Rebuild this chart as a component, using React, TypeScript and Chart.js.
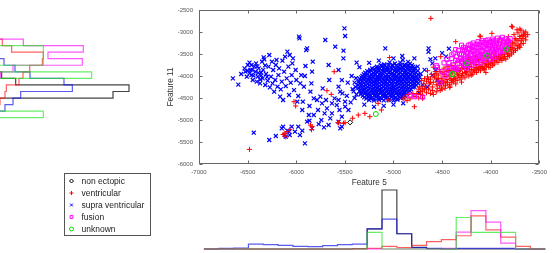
import React, { useEffect, useRef } from "react";
import { Chart, registerables } from "chart.js";
import { drawPoint } from "chart.js/helpers";

Chart.register(...registerables);

type Pt = [number, number];

const FONT = "'Liberation Sans', Arial, Helvetica, sans-serif";

// ---- classes ----
const classNames = ["non ectopic", "ventricular", "supra ventricular", "fusion", "unknown"];
const markerColors = ["#000000", "#ff0000", "#0000ff", "#ff00ff", "#00dd00"];
const lineColors = [
  "rgba(20,20,20,0.8)",
  "rgba(255,30,30,0.7)",
  "rgba(20,20,230,0.7)",
  "rgba(255,0,255,0.65)",
  "rgba(40,230,40,0.7)",
];
const markerStyles = ["rectRot", "cross", "crossRot", "rect", "circle"];
const markerRadius = [2.6, 2.6, 2.8, 2.9, 2.5];
const markerWidth = [1, 1, 1.2, 1, 1];

// ---- axis ticks ----
const feature5Ticks = [-7000, -6500, -6000, -5500, -5000, -4500, -4000, -3500];
const feature11Ticks = [-6000, -5500, -5000, -4500, -4000, -3500, -3000, -2500];

// ---- scatter: Feature 5 (x) vs Feature 11 (y) ----
const nonEctopic: Pt[] = [
  [-5446, -5054], [-4040, -3520], [-3835, -3395], [-5100, -4200], [-5000, -4300],
  [-5200, -4100], [-4950, -4150], [-5050, -4050], [-5150, -4350],
];

const ventricular: Pt[] = [
  // right band
  [-4880, -4480], [-4850, -4420], [-4830, -4520], [-4790, -4460], [-4760, -4400], [-4740, -4500],
  [-4720, -4350], [-4700, -4440], [-4730, -4250], [-4690, -4180], [-4680, -4300], [-4710, -4100],
  [-4670, -4230], [-4660, -4120], [-4650, -4020], [-4640, -4300], [-4630, -4180], [-4620, -4070],
  [-4610, -3960], [-4600, -4250], [-4590, -4140], [-4580, -4030], [-4570, -3900], [-4560, -4200],
  [-4550, -4090], [-4540, -3980], [-4530, -3850], [-4520, -4160], [-4510, -4050], [-4500, -3930],
  [-4490, -4120], [-4480, -3820], [-4470, -4010], [-4460, -3900], [-4450, -4080], [-4440, -3790],
  [-4650, -3880], [-4590, -3800],
  [-4430, -3980], [-4420, -3870], [-4410, -4060], [-4400, -3760], [-4390, -3930], [-4380, -3830],
  [-4370, -4020], [-4360, -3700], [-4350, -3900], [-4340, -3800], [-4330, -3980], [-4320, -3670],
  [-4310, -3860], [-4300, -3760], [-4290, -3940], [-4280, -3650], [-4270, -3830], [-4260, -3730],
  [-4250, -3900], [-4240, -3800], [-4230, -3620], [-4220, -3860], [-4210, -3700],
  [-4195, -3800], [-4185, -3650], [-4175, -3870], [-4160, -3560], [-4150, -3740], [-4140, -3830],
  [-4125, -3620], [-4110, -3780], [-4100, -3500], [-4090, -3700], [-4075, -3830], [-4060, -3590],
  [-4050, -3750], [-4035, -3660], [-4020, -3800], [-4010, -3520], [-4000, -3710], [-3990, -3600],
  [-3980, -3760], [-3975, -3480],
  [-3960, -3640], [-3950, -3450], [-3940, -3560], [-3925, -3380], [-3910, -3600], [-3900, -3300],
  [-3890, -3500], [-3875, -3420], [-3860, -3560], [-3850, -3250], [-3840, -3380], [-3825, -3480],
  [-3810, -3200], [-3800, -3320], [-3790, -3430], [-3775, -3250], [-3760, -3380], [-3750, -3150],
  [-3740, -3300],
  [-3720, -3200], [-3700, -3100], [-3690, -3270], [-3670, -3150], [-3650, -3050], [-3640, -3110],
  [-3720, -3020], [-3760, -3060], [-3730, -2950], [-3785, -2870], [-3700, -3350],
  // lower edge of the band
  [-4545, -4280], [-4525, -4210], [-4505, -4250], [-4485, -4180], [-4465, -4220], [-4445, -4140],
  [-4425, -4190], [-4405, -4100], [-4385, -4130], [-4365, -4060], [-4345, -4100], [-4325, -4030],
  [-4305, -4070], [-4285, -4000], [-4265, -4040], [-4245, -3960], [-4225, -4000], [-4205, -3930],
  [-4185, -3960], [-4165, -3890], [-4145, -3920], [-4125, -3850], [-4105, -3880], [-4085, -3810],
  [-4065, -3850], [-4045, -3780], [-4025, -3740], [-4005, -3800], [-3985, -3700], [-3965, -3730],
  [-3945, -3660], [-3925, -3690], [-3905, -3620], [-3885, -3650], [-3865, -3600], [-3845, -3620],
  [-3825, -3560], [-3805, -3540], [-3785, -3500], [-3765, -3460], [-3745, -3420], [-3725, -3380],
  [-3705, -3320], [-3685, -3200], [-3665, -3260],
  [-3780, -3350], [-3760, -3250], [-3740, -3180], [-3720, -3300], [-3700, -3150], [-3680, -3080],
  [-3660, -3000], [-3690, -2960], [-3640, -3180], [-3620, -3060], [-3800, -3230], [-3820, -3300],
  [-4600, -4330], [-4620, -4400], [-4660, -4380], [-4700, -4340], [-4740, -4300], [-4520, -4330],
  [-4470, -4280], [-4420, -4260], [-4360, -4180], [-4300, -4140],
  // band interior
  [-4580, -4000], [-4560, -3950], [-4540, -4060], [-4520, -3900], [-4500, -4100], [-4480, -3960],
  [-4460, -4150], [-4440, -3870], [-4420, -4000], [-4400, -3900], [-4380, -4080], [-4360, -3850],
  [-4340, -3960], [-4320, -3880], [-4300, -3990], [-4280, -3800], [-4260, -3920], [-4240, -3720],
  [-4220, -3780], [-4200, -3850], [-4180, -3700], [-4160, -3810], [-4140, -3650], [-4120, -3740],
  [-4100, -3800], [-4080, -3640], [-4060, -3720], [-4040, -3600], [-4020, -3680], [-4000, -3560],
  [-3980, -3640], [-3960, -3560], [-3940, -3620], [-3920, -3540], [-3900, -3580], [-3880, -3480],
  [-3860, -3520], [-3840, -3440], [-3820, -3500], [-3800, -3400], [-4620, -4150], [-4640, -4080],
  [-4680, -4060], [-4700, -4280], [-4720, -4420], [-4800, -4400], [-4860, -4560], [-4900, -4520],
  // scattered
  [-4616, -2690], [-4360, -3220], [-4107, -3107], [-3988, -3031], [-3904, -3144], [-3819, -3106],
  [-4514, -3561], [-4785, -4698], [-4700, -4508], [-5056, -4546], [-5158, -4622], [-5124, -4773],
  [-5243, -4925], [-5294, -4849], [-5362, -4887], [-5420, -4960], [-5514, -5076], [-5565, -5061],
  [-4768, -4470], [-4590, -4420], [-4500, -4300], [-4400, -4150], [-4200, -3980], [-4050, -3920],
  [-5040, -3580], [-4560, -4360], [-4420, -4230], [-4111, -3091], [-3775, -2886], [-3663, -3068],
  [-3640, -3000], [-3700, -2930],
  // left side
  [-6481, -5667], [-5610, -3902], [-6118, -5304], [-6108, -5380], [-6091, -5266], [-6135, -5330],
  [-6023, -4584], [-6006, -4682], [-5854, -5114], [-5837, -5150], [-5684, -4334], [-5640, -4417],
  [-5572, -5061], [-5498, -5061], [-6067, -5220], [-5843, -5220],
];

const supraVentricular: Pt[] = [
  // left cloud
  [-6651, -4054], [-6596, -4197], [-6566, -3955], [-6532, -3826], [-6522, -3902], [-6508, -4016],
  [-6498, -3750], [-6481, -3697], [-6471, -3864], [-6461, -3978], [-6447, -4091], [-6430, -3788],
  [-6420, -3902], [-6413, -3713], [-6406, -4129], [-6396, -4016], [-6386, -3826], [-6372, -4167],
  [-6362, -3925], [-6352, -3675], [-6345, -4054], [-6335, -3576], [-6328, -3622], [-6318, -4205],
  [-6311, -3955], [-6294, -4107], [-6284, -3788], [-6277, -3523], [-6271, -4258], [-6260, -4016],
  [-6250, -3675], [-6244, -4167], [-6237, -3864], [-6227, -4357], [-6216, -4091], [-6210, -3750],
  [-6203, -3637], [-6193, -4243], [-6183, -3978], [-6176, -3826], [-6166, -4470], [-6159, -4304],
  [-6149, -4129], [-6142, -3652], [-6135, -4546], [-6125, -3902], [-6115, -3561], [-6108, -4228],
  [-6098, -4054], [-6091, -3447], [-6081, -3788], [-6074, -4432], [-6067, -3523], [-6057, -4152],
  [-6047, -3978], [-6040, -3713], [-6033, -3599], [-6023, -4319], [-6006, -3864], [-5999, -4091],
  [-5989, -4584], [-5979, -4455], [-5972, -3106], [-5966, -3144], [-5959, -4167], [-5949, -3978],
  [-5938, -4773], [-5932, -4584], [-5921, -4243], [-5911, -4000], [-5905, -3773], [-5898, -3410],
  [-5888, -3372], [-5871, -4887], [-5864, -4682], [-5854, -4357], [-5844, -4167], [-5837, -3902],
  [-5830, -3675], [-5820, -4508], [-5786, -4546], [-5776, -4773], [-5752, -4470], [-5735, -4622],
  [-5728, -4281], [-5708, -4849], [-5701, -3182], [-5694, -4546], [-5684, -4735], [-5667, -3750],
  [-5660, -4091], [-5650, -4963], [-5633, -4622], [-5606, -4508], [-5599, -3334], [-5583, -4660],
  [-5565, -4243], [-5555, -4773], [-5525, -4395], [-5515, -3599], [-5504, -2917], [-5498, -4584],
  [-6480, -3940], [-6450, -3860], [-6440, -3990], [-6400, -3780], [-6390, -3930], [-6370, -4080],
  [-6340, -3860], [-6320, -3760], [-6300, -4020], [-6460, -3750], [-6500, -3880], [-6360, -3990],
  // lower left group
  [-6437, -5289], [-6277, -5455], [-6210, -5364], [-6149, -5190], [-6135, -5152], [-6118, -5342],
  [-6108, -5380], [-6091, -5243], [-6074, -5266], [-6067, -5342], [-6047, -5152], [-6013, -5266],
  [-5979, -5152], [-5962, -5342], [-5938, -5243], [-5911, -5531], [-5888, -5039], [-5864, -5016],
  [-5837, -5190], [-5820, -4887], [-5769, -5092], [-5742, -5001], [-5715, -5167], [-5667, -5114],
  [-5633, -4849], [-5565, -5039], [-5531, -5152],
  // dense cluster
  [-5040, -3690], [-4985, -3715], [-4930, -3695], [-4885, -3740], [-5095, -3735], [-4830, -3720],
  [-5170, -3790], [-5120, -3770], [-5065, -3800], [-5010, -3775], [-4955, -3790], [-4900, -3800],
  [-4850, -3770], [-4800, -3795],
  [-5130, -3755], [-5090, -3760], [-5050, -3750], [-5010, -3745], [-4970, -3760], [-4930, -3750],
  [-4890, -3765], [-4850, -3745], [-4810, -3755],
  [-5220, -3825], [-5180, -3815], [-5140, -3830], [-5100, -3820], [-5060, -3830], [-5020, -3815],
  [-4980, -3825], [-4940, -3830], [-4900, -3820], [-4860, -3830], [-4820, -3815], [-4780, -3825],
  [-5240, -3860], [-5195, -3840], [-5150, -3855], [-5105, -3835], [-5060, -3865], [-5015, -3845],
  [-4970, -3860], [-4925, -3840], [-4880, -3865], [-4835, -3850], [-4790, -3830],
  [-5270, -3890], [-5230, -3880], [-5190, -3895], [-5150, -3885], [-5110, -3890], [-5070, -3880],
  [-5030, -3895], [-4990, -3885], [-4950, -3890], [-4910, -3880], [-4870, -3895], [-4830, -3885],
  [-4790, -3890], [-4750, -3880],
  [-5290, -3925], [-5250, -3905], [-5210, -3930], [-5170, -3915], [-5130, -3935], [-5090, -3910],
  [-5050, -3925], [-5010, -3935], [-4970, -3905], [-4930, -3925], [-4890, -3915], [-4850, -3935],
  [-4810, -3910], [-4770, -3925],
  [-5305, -3960], [-5265, -3950], [-5225, -3965], [-5185, -3955], [-5145, -3960], [-5105, -3950],
  [-5065, -3965], [-5025, -3955], [-4985, -3960], [-4945, -3950], [-4905, -3965], [-4865, -3955],
  [-4825, -3960], [-4785, -3950], [-4745, -3965],
  [-5320, -3995], [-5285, -3980], [-5245, -4000], [-5205, -3985], [-5165, -4005], [-5125, -3975],
  [-5085, -3995], [-5045, -4005], [-5005, -3980], [-4965, -3995], [-4925, -4005], [-4885, -3985],
  [-4845, -4000], [-4805, -3990], [-4765, -4005],
  [-5330, -4030], [-5290, -4020], [-5250, -4035], [-5210, -4025], [-5170, -4030], [-5130, -4020],
  [-5090, -4035], [-5050, -4025], [-5010, -4030], [-4970, -4020], [-4930, -4035], [-4890, -4025],
  [-4850, -4030], [-4810, -4020], [-4770, -4035], [-4730, -4025],
  [-5345, -4065], [-5305, -4050], [-5265, -4070], [-5225, -4055], [-5185, -4075], [-5145, -4045],
  [-5105, -4065], [-5065, -4055], [-5025, -4070], [-4985, -4050], [-4945, -4065], [-4905, -4075],
  [-4865, -4050], [-4825, -4065], [-4785, -4055], [-4750, -4070],
  [-5340, -4100], [-5300, -4090], [-5260, -4105], [-5220, -4095], [-5180, -4100], [-5140, -4090],
  [-5100, -4105], [-5060, -4095], [-5020, -4100], [-4980, -4090], [-4940, -4105], [-4900, -4095],
  [-4860, -4100], [-4820, -4090], [-4780, -4105], [-4740, -4095],
  [-5360, -4135], [-5320, -4120], [-5280, -4140], [-5240, -4125], [-5200, -4145], [-5160, -4115],
  [-5120, -4135], [-5080, -4125], [-5040, -4140], [-5000, -4120], [-4960, -4135], [-4920, -4145],
  [-4880, -4125], [-4840, -4135], [-4800, -4120], [-4760, -4140],
  [-5345, -4170], [-5305, -4160], [-5265, -4175], [-5225, -4165], [-5185, -4170], [-5145, -4160],
  [-5105, -4175], [-5065, -4165], [-5025, -4170], [-4985, -4160], [-4945, -4175], [-4905, -4165],
  [-4865, -4170], [-4825, -4160], [-4785, -4175], [-4745, -4165],
  [-5365, -4205], [-5325, -4190], [-5285, -4210], [-5245, -4195], [-5205, -4215], [-5165, -4185],
  [-5125, -4205], [-5085, -4195], [-5045, -4210], [-5005, -4190], [-4965, -4205], [-4925, -4215],
  [-4885, -4195], [-4845, -4205], [-4805, -4190], [-4765, -4210],
  [-5345, -4240], [-5305, -4230], [-5265, -4245], [-5225, -4235], [-5185, -4240], [-5145, -4230],
  [-5105, -4245], [-5065, -4235], [-5025, -4240], [-4985, -4230], [-4945, -4245], [-4905, -4235],
  [-4865, -4240], [-4825, -4230], [-4785, -4245],
  [-5360, -4275], [-5320, -4260], [-5280, -4280], [-5240, -4265], [-5200, -4285], [-5160, -4255],
  [-5120, -4275], [-5080, -4265], [-5040, -4280], [-5000, -4260], [-4960, -4275], [-4920, -4285],
  [-4880, -4265], [-4840, -4275], [-4800, -4260],
  [-5340, -4310], [-5300, -4300], [-5260, -4315], [-5220, -4305], [-5180, -4310], [-5140, -4300],
  [-5100, -4315], [-5060, -4305], [-5020, -4310], [-4980, -4300], [-4940, -4315], [-4900, -4305],
  [-4860, -4310], [-4820, -4300],
  [-5350, -4345], [-5310, -4330], [-5270, -4350], [-5230, -4335], [-5190, -4355], [-5150, -4325],
  [-5110, -4345], [-5070, -4335], [-5030, -4350], [-4990, -4330], [-4950, -4345], [-4910, -4355],
  [-4870, -4335], [-4830, -4345],
  [-5330, -4380], [-5290, -4370], [-5250, -4385], [-5210, -4375], [-5170, -4380], [-5130, -4370],
  [-5090, -4385], [-5050, -4375], [-5010, -4380], [-4970, -4370], [-4930, -4385], [-4890, -4375],
  [-4850, -4380],
  [-5335, -4415], [-5295, -4400], [-5255, -4420], [-5215, -4405], [-5175, -4425], [-5135, -4395],
  [-5095, -4415], [-5055, -4405], [-5015, -4420], [-4975, -4400], [-4935, -4415], [-4895, -4425],
  [-4860, -4405],
  [-5315, -4450], [-5275, -4440], [-5235, -4455], [-5195, -4445], [-5155, -4450], [-5115, -4440],
  [-5075, -4455], [-5035, -4445], [-4995, -4450], [-4955, -4440], [-4915, -4455], [-4880, -4445],
  [-5300, -4485], [-5260, -4470], [-5220, -4490], [-5180, -4475], [-5140, -4495], [-5100, -4465],
  [-5060, -4485], [-5020, -4475], [-4980, -4490], [-4940, -4470], [-4900, -4485],
  [-5280, -4515], [-5240, -4505], [-5200, -4520], [-5160, -4510], [-5120, -4515], [-5080, -4505],
  [-5040, -4520], [-5000, -4510], [-4960, -4515], [-4925, -4505],
  [-5250, -4545], [-5200, -4560], [-5150, -4540], [-5100, -4555], [-5050, -4545], [-5000, -4560],
  [-4960, -4540],
  [-5400, -4150], [-5390, -4250], [-5410, -4350], [-5385, -4050], [-5380, -4420],
  // around the dense cluster
  [-5497, -3091], [-5514, -3425], [-5379, -3697], [-5565, -3864], [-5531, -4092], [-5548, -4357],
  [-5565, -4546], [-5497, -4698], [-5531, -4925], [-5548, -5190], [-5463, -4773], [-5084, -3372],
  [-4910, -3546], [-4904, -3637], [-4785, -3599], [-4639, -3372], [-4751, -3788], [-4600, -3713],
  [-4565, -3864], [-4548, -4092], [-5430, -4000], [-5420, -4300], [-5400, -4500], [-5440, -4600],
  [-5300, -4650], [-5200, -4700], [-5100, -4680], [-5000, -4650], [-4900, -4620], [-5350, -3800],
  [-5250, -3700], [-5150, -3650], [-5000, -3600], [-4850, -3680], [-4720, -3950], [-4700, -4200],
  [-4740, -4380], [-5470, -4150], [-5480, -4450], [-4680, -3860], [-4620, -3620],
  [-4640, -3450], [-4600, -3980], [-4570, -3600], [-4530, -4150], [-4500, -3480], [-4460, -3560],
  [-4430, -3380], [-4650, -4250],
];

const fusion: Pt[] = [
  [-4440, -3800], [-4430, -3700], [-4420, -3880], [-4400, -3600], [-4390, -3750], [-4380, -3480],
  [-4370, -3820], [-4360, -3650], [-4350, -3550], [-4340, -3720], [-4330, -3420], [-4320, -3800],
  [-4310, -3600], [-4300, -3500], [-4290, -3680], [-4280, -3350], [-4270, -3760], [-4260, -3560],
  [-4250, -3450], [-4240, -3640], [-4230, -3300], [-4220, -3720], [-4210, -3520], [-4200, -3400],
  [-4190, -3600], [-4180, -3250], [-4170, -3680], [-4160, -3480], [-4150, -3350], [-4140, -3560],
  [-4130, -3220], [-4120, -3640], [-4110, -3420], [-4100, -3300], [-4090, -3520], [-4080, -3200],
  [-4070, -3600], [-4060, -3380], [-4050, -3260], [-4040, -3480], [-4030, -3180], [-4020, -3560],
  [-4010, -3340], [-4000, -3220], [-3990, -3440], [-3980, -3160], [-3970, -3520], [-3960, -3300],
  [-3950, -3200], [-3940, -3400], [-3930, -3140], [-3920, -3480], [-3910, -3260], [-3900, -3180],
  [-3890, -3360], [-3880, -3120], [-3870, -3440], [-3860, -3240], [-3850, -3160], [-3840, -3320],
  [-3830, -3400], [-3820, -3200], [-3810, -3280], [-3800, -3150], [-4350, -3850], [-4250, -3820],
  [-4200, -3760], [-4150, -3720], [-4100, -3700], [-4050, -3650], [-4000, -3620], [-3950, -3580],
  [-4320, -3500], [-4270, -3420], [-4220, -3380], [-4170, -3320], [-4120, -3280], [-4070, -3240],
  [-4020, -3290], [-3970, -3250], [-4180, -3440], [-4130, -3500], [-4080, -3420], [-4030, -3380],
  [-3980, -3340], [-4230, -3560], [-4280, -3600], [-4330, -3640],
  [-4300, -3300], [-4290, -3400], [-4280, -3520], [-4270, -3640], [-4260, -3360], [-4250, -3700],
  [-4240, -3480], [-4230, -3400], [-4220, -3600], [-4210, -3280], [-4200, -3540], [-4190, -3340],
  [-4180, -3660], [-4170, -3420], [-4160, -3580], [-4150, -3280], [-4140, -3460], [-4130, -3620],
  [-4120, -3360], [-4110, -3540], [-4100, -3240], [-4090, -3440], [-4080, -3580], [-4070, -3320],
  [-4060, -3500], [-4050, -3200], [-4040, -3400], [-4030, -3540], [-4020, -3240], [-4010, -3460],
  [-4000, -3300], [-3990, -3520], [-3980, -3400], [-3970, -3200], [-3960, -3460], [-3950, -3360],
  [-3940, -3260], [-3930, -3540], [-3920, -3360], [-3910, -3200], [-3900, -3430], [-3880, -3300],
  [-3860, -3380], [-3840, -3220],
  [-4548, -3800], [-4500, -3900], [-4470, -4000], [-4430, -3950], [-4480, -3700], [-4520, -4150],
  [-4450, -3620], [-4400, -3520], [-4360, -3400],
  [-4785, -4470], [-4700, -4480], [-4830, -4440], [-4560, -3760],
];

const unknown: Pt[] = [
  [-5182, -4864], [-4388, -3955], [-4039, -3538], [-3836, -3394], [-4400, -3960], [-4244, -3708],
];

const scatterSeries = [nonEctopic, ventricular, supraVentricular, fusion, unknown];

// ---- Feature 5 histograms (bottom) ----
const feature5Edges = [
  -6950, -6799, -6648, -6497, -6346, -6195, -6044, -5893, -5742, -5591, -5440, -5289,
  -5138, -4987, -4836, -4685, -4534, -4383, -4232, -4081, -3930, -3779, -3628, -3477,
];
const nonEctopicF5 = [0, 0, 0, 0, 0, 0, 0, 0, 0, 0, 1, 61, 178, 46, 5, 1, 0, 0, 0, 0, 0, 0, 0];
const ventricularF5 = [0, 0, 0, 0, 0, 0, 0, 0, 0, 0, 1, 2, 8, 4, 11, 22, 28, 40, 100, 58, 36, 8, 0];
const supraVentricularF5 = [0, 2, 3, 15, 13, 11, 8, 7, 10, 13, 15, 61, 90, 46, 4, 2, 1, 2, 2, 2, 2, 0, 0];
const fusionF5 = [0, 0, 0, 0, 0, 0, 0, 0, 0, 0, 0, 0, 0, 0, 0, 0, 2, 51, 116, 81, 18, 0, 0];
const unknownF5 = [0, 0, 0, 0, 0, 0, 0, 0, 0, 0, 0, 50, 0, 0, 0, 0, 0, 95, 50, 50, 50, 0, 0];
const feature5Hist = [nonEctopicF5, ventricularF5, supraVentricularF5, fusionF5, unknownF5];

// ---- Feature 11 histograms (left) ----
const feature11Edges = [
  -3160, -3309, -3458, -3607, -3756, -3905, -4054, -4203, -4352, -4501, -4650, -4799, -4948,
];
const nonEctopicF11 = [0, 0, 0, 0, 0, 8, 50, 390, 342, 0, 0, 0];
const ventricularF11 = [10, 38, 133, 130, 92, 72, 60, 22, 18, 3, 0, 0];
const supraVentricularF11 = [0, 0, 0, 15, 48, 93, 195, 220, 65, 42, 18, 0];
const fusionF11 = [73, 253, 147, 250, 42, 5, 0, 0, 0, 0, 0, 0];
const unknownF11 = [0, 133, 133, 133, 0, 278, 0, 0, 0, 0, 0, 133];
const feature11Hist = [nonEctopicF11, ventricularF11, supraVentricularF11, fusionF11, unknownF11];

// draw order (lower value is drawn on top)
const drawOrder = [5, 3, 4, 2, 1];

function stairsX(edges: number[], counts: number[]) {
  const pts = [{ x: edges[0], y: 0 }];
  counts.forEach((c, i) => {
    pts.push({ x: edges[i], y: c });
    pts.push({ x: edges[i + 1], y: c });
  });
  pts.push({ x: edges[counts.length], y: 0 });
  return pts;
}

function stairsY(edges: number[], counts: number[]) {
  const pts = [{ x: 0, y: edges[0] }];
  counts.forEach((c, i) => {
    pts.push({ x: c, y: edges[i] });
    pts.push({ x: c, y: edges[i + 1] });
  });
  pts.push({ x: 0, y: edges[counts.length] });
  return pts;
}

// frame, inward tick marks and the legend box
const decorations = {
  id: "decorations",
  afterDraw(chart: any) {
    const { ctx, chartArea: a, scales } = chart;
    const L = Math.round(a.left) + 0.5;
    const R = Math.round(a.right) - 0.5;
    const T = Math.round(a.top) + 0.5;
    const B = Math.round(a.bottom) - 0.5;
    ctx.save();
    ctx.strokeStyle = "#666";
    ctx.lineWidth = 1;
    ctx.strokeRect(L, T, R - L, B - T);
    ctx.beginPath();
    feature5Ticks.forEach((v) => {
      const x = Math.round(scales.x.getPixelForValue(v)) + 0.5;
      ctx.moveTo(x, B);
      ctx.lineTo(x, B - 3);
      ctx.moveTo(x, T);
      ctx.lineTo(x, T + 3);
    });
    feature11Ticks.forEach((v) => {
      const y = Math.round(scales.y.getPixelForValue(v)) + 0.5;
      ctx.moveTo(L, y);
      ctx.lineTo(L + 3, y);
      ctx.moveTo(R, y);
      ctx.lineTo(R - 3, y);
    });
    ctx.stroke();

    // legend
    ctx.strokeStyle = "#555";
    ctx.strokeRect(64.5, 173.5, 86, 62);
    ctx.font = `8.5px ${FONT}`;
    ctx.textBaseline = "middle";
    ctx.textAlign = "left";
    classNames.forEach((name, i) => {
      const y = 181 + i * 12;
      ctx.strokeStyle = markerColors[i];
      ctx.fillStyle = "rgba(0,0,0,0)";
      ctx.lineWidth = 1;
      drawPoint(ctx, { pointStyle: markerStyles[i], radius: 2, rotation: 0, borderWidth: 1 } as any, 71.5, y);
      ctx.fillStyle = "#222";
      ctx.fillText(name, 81.5, y + 0.5);
    });
    ctx.restore();
  },
};

export default function App() {
  const mainRef = useRef<HTMLCanvasElement>(null);
  const leftRef = useRef<HTMLCanvasElement>(null);
  const bottomRef = useRef<HTMLCanvasElement>(null);

  useEffect(() => {
    Chart.defaults.font.family = FONT;

    const main = new Chart(mainRef.current!, {
      type: "scatter",
      data: {
        datasets: scatterSeries.map((pts, i) => ({
          label: classNames[i],
          data: pts.map(([x, y]) => ({ x, y })),
          pointStyle: markerStyles[i] as any,
          pointRadius: markerRadius[i],
          borderColor: markerColors[i],
          backgroundColor: "rgba(0,0,0,0)",
          borderWidth: markerWidth[i],
          order: drawOrder[i],
        })),
      },
      options: {
        responsive: false,
        animation: false,
        devicePixelRatio: 1,
        events: [],
        layout: { padding: { left: 166, right: 9, top: 10, bottom: 65 } },
        plugins: { legend: { display: false }, tooltip: { enabled: false } },
        scales: {
          x: {
            type: "linear",
            min: -7000,
            max: -3500,
            afterFit: (s: any) => {
              s.height = 24;
            },
            afterBuildTicks: (s: any) => {
              s.ticks = feature5Ticks.map((v) => ({ value: v }));
            },
            ticks: {
              padding: 5,
              autoSkip: false,
              maxRotation: 0,
              color: "#555",
              font: { size: 6 },
              callback: (v: any) => String(v),
            },
            grid: { display: false, drawTicks: false },
            border: { display: false },
            title: { display: true, text: "Feature 5", padding: 0, color: "#333", font: { size: 8.2 } },
          },
          y: {
            type: "linear",
            min: -6000,
            max: -2500,
            afterFit: (s: any) => {
              s.width = 33;
            },
            afterBuildTicks: (s: any) => {
              s.ticks = feature11Ticks.map((v) => ({ value: v }));
            },
            ticks: {
              padding: 6,
              autoSkip: false,
              color: "#555",
              font: { size: 6 },
              callback: (v: any) => String(v),
            },
            grid: { display: false, drawTicks: false },
            border: { display: false },
            title: { display: true, text: "Feature 11", padding: 0, color: "#333", font: { size: 8.2 } },
          },
        },
      },
      plugins: [decorations],
    });

    const left = new Chart(leftRef.current!, {
      type: "scatter",
      data: {
        datasets: feature11Hist.map((counts, i) => ({
          label: classNames[i],
          data: stairsY(feature11Edges, counts),
          showLine: true,
          pointRadius: 0,
          borderColor: lineColors[i],
          borderWidth: 1.2,
          fill: false,
          order: drawOrder[i],
        })),
      },
      options: {
        responsive: false,
        animation: false,
        devicePixelRatio: 1,
        events: [],
        layout: { padding: { left: 0, right: 0, top: 10, bottom: 89 } },
        plugins: { legend: { display: false }, tooltip: { enabled: false } },
        scales: {
          x: { type: "linear", min: 0, max: 450, display: false },
          y: { type: "linear", min: -6000, max: -2500, display: false },
        },
      },
    });

    const bottom = new Chart(bottomRef.current!, {
      type: "scatter",
      data: {
        datasets: feature5Hist.map((counts, i) => ({
          label: classNames[i],
          data: stairsX(feature5Edges, counts),
          showLine: true,
          pointRadius: 0,
          borderColor: lineColors[i],
          borderWidth: 1.2,
          fill: false,
          clip: false as any,
          order: drawOrder[i],
        })),
      },
      options: {
        responsive: false,
        animation: false,
        devicePixelRatio: 1,
        events: [],
        layout: { padding: { left: 199, right: 9, top: 5, bottom: 4 } },
        plugins: { legend: { display: false }, tooltip: { enabled: false } },
        scales: {
          x: { type: "linear", min: -7000, max: -3500, display: false },
          y: { type: "linear", min: 0, max: 178, display: false },
        },
      },
    });

    return () => {
      main.destroy();
      left.destroy();
      bottom.destroy();
    };
  }, []);

  return (
    <div style={{ position: "fixed", left: 0, top: 0, width: 552, height: 253, background: "#fff", overflow: "hidden" }}>
      <canvas ref={mainRef} width={552} height={253} style={{ position: "absolute", left: 0, top: 0, width: 552, height: 253 }} />
      <canvas ref={leftRef} width={150} height={253} style={{ position: "absolute", left: -1, top: 0, width: 150, height: 253 }} />
      <canvas ref={bottomRef} width={552} height={68} style={{ position: "absolute", left: 0, top: 185, width: 552, height: 68 }} />
    </div>
  );
}
